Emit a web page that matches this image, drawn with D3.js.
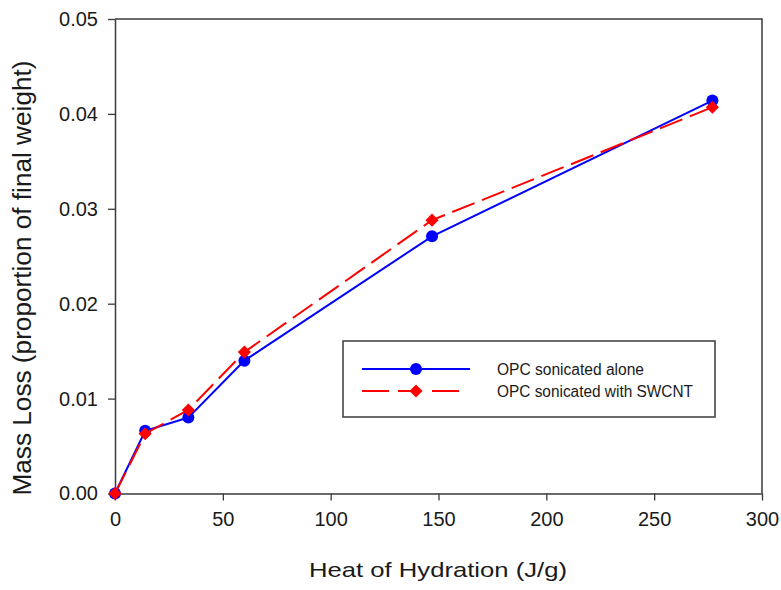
<!DOCTYPE html>
<html>
<head>
<meta charset="utf-8">
<script src="https://cdn.jsdelivr.net/npm/d3@7/dist/d3.min.js"></script>
<style>
  html, body { margin: 0; padding: 0; background: #fff; }
  svg { display: block; font-family: "Liberation Sans", Arial, sans-serif; }
</style>
</head>
<body>
<svg id="chart" width="781" height="590"></svg>
<script>
// Heat of hydration (J/g) at each measurement
const heat = [0, 14, 34, 60, 147, 277];
// Mass loss as a proportion of final weight
const sonicatedAlone = [0, 0.0066, 0.0080, 0.0140, 0.0271, 0.0414];
const sonicatedWithSWCNT = [0, 0.0063, 0.0088, 0.0149, 0.0288, 0.0407];

const xTicks = [0, 50, 100, 150, 200, 250, 300];
const yTicks = [0, 0.01, 0.02, 0.03, 0.04, 0.05];

const seriesNames = ["OPC sonicated alone", "OPC sonicated with SWCNT"];

const svg = d3.select("#chart");
const plotLeft = 115, plotRight = 762, plotTop = 19, plotBottom = 493.5;

const x = d3.scaleLinear().domain([0, 300]).range([plotLeft, plotRight]);
const y = d3.scaleLinear().domain([0, 0.05]).range([plotBottom, plotTop]);

const axisColor = "#3a3a3a";

// frame (top and right edges)
svg.append("path")
  .attr("d", `M${plotLeft},${plotTop}H${plotRight}V${plotBottom}`)
  .attr("fill", "none").attr("stroke", axisColor).attr("stroke-width", 1.5);

const xAxis = svg.append("g")
  .attr("transform", `translate(0,${plotBottom})`)
  .call(d3.axisBottom(x).tickValues(xTicks).tickFormat(d3.format("d")).tickSize(7).tickPadding(11).tickSizeOuter(0));
const yAxis = svg.append("g")
  .attr("transform", `translate(${plotLeft},0)`)
  .call(d3.axisLeft(y).tickValues(yTicks).tickFormat(d3.format(".2f")).tickSize(7).tickPadding(10).tickSizeOuter(0));

[xAxis, yAxis].forEach(g => {
  g.select(".domain").attr("stroke", axisColor).attr("stroke-width", 1.5);
  g.selectAll(".tick line").attr("stroke", axisColor).attr("stroke-width", 1.3);
  g.selectAll(".tick text").attr("fill", "#1a1a1a").style("font-size", "20px")
    .style("font-family", "'Liberation Sans', Arial, sans-serif");
});

// axis titles
svg.append("text")
  .attr("x", 438).attr("y", 577)
  .attr("text-anchor", "middle")
  .attr("fill", "#1a1a1a")
  .style("font-size", "21px")
  .attr("textLength", 258).attr("lengthAdjust", "spacingAndGlyphs")
  .text("Heat of Hydration (J/g)");

svg.append("text")
  .attr("transform", "translate(31,278) rotate(-90)")
  .attr("text-anchor", "middle")
  .attr("fill", "#1a1a1a")
  .style("font-size", "25px")
  .attr("textLength", 435).attr("lengthAdjust", "spacingAndGlyphs")
  .text("Mass Loss (proportion of final weight)");

const line = d3.line().x((d, i) => x(heat[i])).y(d => y(d));

// blue series: solid line with circles
svg.append("path")
  .datum(sonicatedAlone)
  .attr("d", line)
  .attr("fill", "none").attr("stroke", "#0000ff").attr("stroke-width", 2);
svg.append("g").selectAll("circle")
  .data(sonicatedAlone)
  .join("circle")
  .attr("cx", (d, i) => x(heat[i])).attr("cy", d => y(d))
  .attr("r", 6).attr("fill", "#0000ff");

// red series: dashed line with diamonds
svg.append("path")
  .datum(sonicatedWithSWCNT)
  .attr("d", line)
  .attr("fill", "none").attr("stroke", "#ff0000").attr("stroke-width", 2)
  .attr("stroke-dasharray", "24,8");
const diamond = d3.symbol().type(d3.symbolDiamond2).size(110);
svg.append("g").selectAll("path")
  .data(sonicatedWithSWCNT)
  .join("path")
  .attr("transform", (d, i) => `translate(${x(heat[i])},${y(d)})`)
  .attr("d", diamond).attr("fill", "#ff0000");

// legend
const legend = svg.append("g");
legend.append("rect")
  .attr("x", 343).attr("y", 341).attr("width", 372).attr("height", 76)
  .attr("fill", "#fff").attr("stroke", axisColor).attr("stroke-width", 1.5);

legend.append("line")
  .attr("x1", 362).attr("x2", 470).attr("y1", 369).attr("y2", 369)
  .attr("stroke", "#0000ff").attr("stroke-width", 2);
legend.append("circle").attr("cx", 416).attr("cy", 369).attr("r", 6).attr("fill", "#0000ff");

legend.append("line")
  .attr("x1", 362).attr("x2", 460).attr("y1", 391).attr("y2", 391)
  .attr("stroke", "#ff0000").attr("stroke-width", 2)
  .attr("stroke-dasharray", "27,9,14,20,27");
legend.append("path")
  .attr("transform", "translate(416,391)")
  .attr("d", diamond).attr("fill", "#ff0000");

legend.selectAll("text.lab")
  .data(seriesNames)
  .join("text")
  .attr("class", "lab")
  .attr("x", 497).attr("y", (d, i) => 375 + i * 22)
  .attr("fill", "#1a1a1a")
  .style("font-size", "16px")
  .attr("textLength", (d, i) => i === 0 ? 147 : 196)
  .attr("lengthAdjust", "spacingAndGlyphs")
  .text(d => d);
</script>
</body>
</html>
